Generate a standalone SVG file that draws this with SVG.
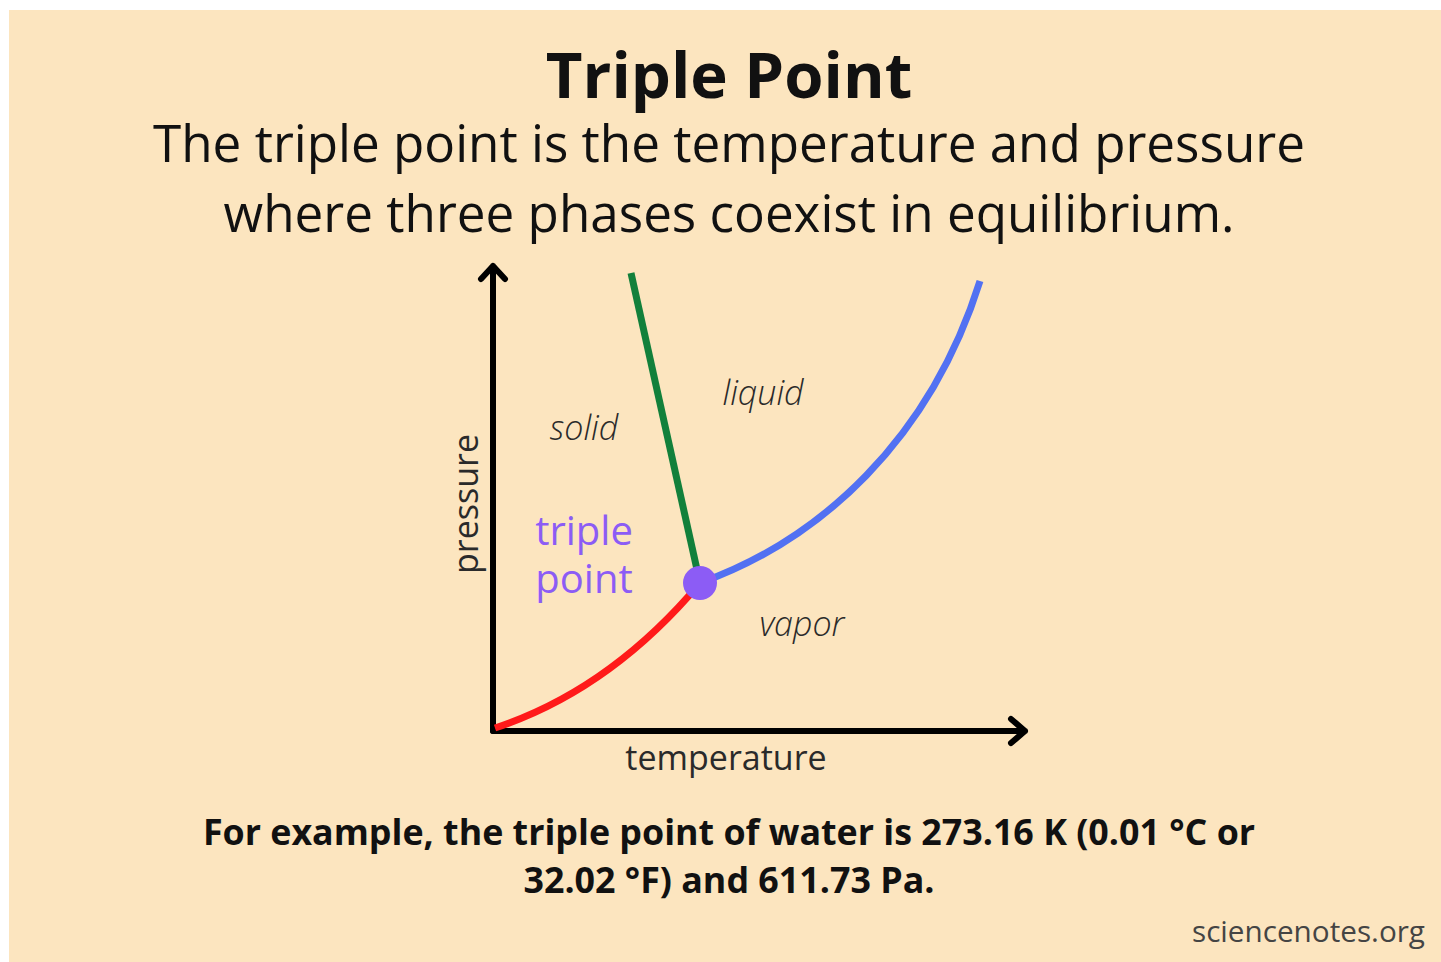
<svg xmlns="http://www.w3.org/2000/svg" width="1441" height="962" viewBox="0 0 1441 962">
<style>
text{font-family:"Open Sans","Noto Sans","Liberation Sans",sans-serif;fill:#111}
.phase{font-style:italic;font-weight:300;font-size:34px;fill:#2a2a2a}
.axis{font-size:34px;fill:#2a2a2a}
.ax{stroke:#000;stroke-width:6;fill:none;stroke-linecap:round;stroke-linejoin:round}
.curve{fill:none;stroke-width:7}
.tp{font-size:40px;fill:#8C5CF5}
.foot{font-weight:700;font-size:35.8px}
</style>
<rect x="0" y="0" width="1441" height="962" fill="#ffffff"/>
<rect x="9" y="10" width="1432" height="952" fill="#FCE5BF"/>
<g id="title">
<text x="729" y="98" text-anchor="middle" font-weight="700" font-size="63.5">Triple Point</text>
<text x="729" y="162" text-anchor="middle" font-size="51.2">The triple point is the temperature and pressure</text>
<text x="729" y="232" text-anchor="middle" font-size="51.2">where three phases coexist in equilibrium.</text>
</g>
<g id="axes">
<path class="ax" d="M493,731 V266 M481,279 L493,266 L505,279"/>
<path class="ax" d="M493,731 H1025 M1011,719 L1025,731 L1011,743"/>
<text class="axis" x="726" y="770" text-anchor="middle">temperature</text>
<text class="axis" transform="translate(478,504) rotate(-90)" text-anchor="middle">pressure</text>
</g>
<g id="connectors">
<path class="curve" stroke="#12803B" d="M631,273 L700,583"/>
<path class="curve" stroke="#5271F2" d="M700,583 C820,540 930,440 980,281"/>
<path class="curve" stroke="#FF1A1A" d="M495,728 Q610,690 700,583"/>
</g>
<g id="triple-point">
<circle cx="700" cy="583" r="17" fill="#8C5CF5"/>
<text class="tp" x="584" y="545" text-anchor="middle">triple</text>
<text class="tp" x="584" y="593" text-anchor="middle">point</text>
</g>
<g id="solid"><text class="phase" x="584" y="440" text-anchor="middle">solid</text></g>
<g id="liquid"><text class="phase" x="763" y="405" text-anchor="middle">liquid</text></g>
<g id="vapor"><text class="phase" x="802" y="636" text-anchor="middle">vapor</text></g>
<g id="footer">
<text class="foot" x="729" y="845" text-anchor="middle">For example, the triple point of water is 273.16 K (0.01 °C or</text>
<text class="foot" x="729" y="893" text-anchor="middle">32.02 °F) and 611.73 Pa.</text>
<text x="1425" y="942" text-anchor="end" font-size="29.7" style="fill:#444">sciencenotes.org</text>
</g>
</svg>
